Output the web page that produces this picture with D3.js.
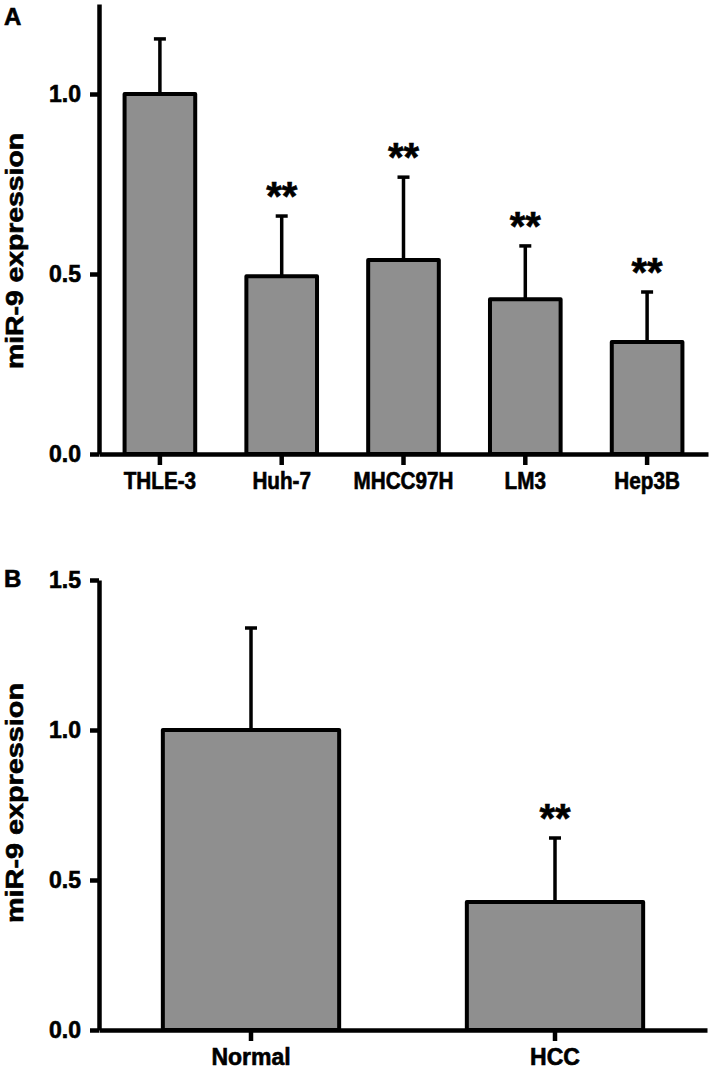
<!DOCTYPE html>
<html>
<head>
<meta charset="utf-8">
<script src="https://cdn.jsdelivr.net/npm/d3@7"></script>
<style>
  html, body { margin: 0; padding: 0; background: #fff; }
  svg { display: block; }
  text { font-family: "Liberation Sans", Arial, Helvetica, sans-serif; font-weight: bold; fill: #000; stroke: #000; stroke-width: 0.6px; }
</style>
</head>
<body>
<div id="chart"></div>
<script>
// Panel A data
const catsA = ["THLE-3", "Huh-7", "MHCC97H", "LM3", "Hep3B"];
const meanA = [1.0, 0.494, 0.539, 0.43, 0.311];
const semA  = [0.153, 0.167, 0.23, 0.148, 0.139];
const sigA  = ["", "**", "**", "**", "**"];
const ticksA = [0, 0.5, 1.0];

// Panel B data
const catsB = ["Normal", "HCC"];
const meanB = [1.0, 0.427];
const semB  = [0.34, 0.213];
const sigB  = ["", "**"];
const ticksB = [0, 0.5, 1.0, 1.5];

const yTitle = "miR-9 expression";

const W = 709, H = 1070;
const svg = d3.select("#chart").append("svg").attr("width", W).attr("height", H);

function panel(cfg) {
  const x = d3.scaleBand().domain(cfg.cats).range(cfg.xr).paddingInner(0.42).paddingOuter(0.21);
  const y = d3.scaleLinear().domain(cfg.yd).range(cfg.yr);
  const g = svg.append("g");
  const data = cfg.cats.map((c, i) => ({c, m: cfg.mean[i], s: cfg.sem[i], sig: cfg.sig[i]}));

  // bars
  g.selectAll("rect.bar").data(data).join("rect")
    .attr("class", "bar")
    .attr("x", d => x(d.c))
    .attr("width", x.bandwidth())
    .attr("y", d => y(d.m))
    .attr("height", d => y(0) - y(d.m))
    .attr("fill", "#8f8f8f")
    .attr("stroke", "#000")
    .attr("stroke-width", 4)
    .attr("stroke-linejoin", "round");

  // error bars
  const cx = d => x(d.c) + x.bandwidth() / 2;
  g.selectAll("line.err").data(data).join("line")
    .attr("x1", cx).attr("x2", cx)
    .attr("y1", d => y(d.m)).attr("y2", d => y(d.m + d.s))
    .attr("stroke", "#000").attr("stroke-width", 3.5);
  g.selectAll("line.cap").data(data).join("line")
    .attr("x1", d => cx(d) - 6).attr("x2", d => cx(d) + 6)
    .attr("y1", d => y(d.m + d.s)).attr("y2", d => y(d.m + d.s))
    .attr("stroke", "#000").attr("stroke-width", 3.5);

  // significance stars
  g.selectAll("text.sig").data(data.filter(d => d.sig)).join("text")
    .attr("class", "sig")
    .attr("x", cx)
    .attr("y", d => y(d.m + d.s) - 6)
    .attr("text-anchor", "middle")
    .attr("font-size", 40)
    .text(d => d.sig);

  // y axis
  const ya = g.append("g").attr("transform", `translate(${cfg.xr[0]},0)`)
    .call(d3.axisLeft(y).tickValues(cfg.ticks).tickFormat(d3.format(".1f")).tickSize(9).tickPadding(9).tickSizeOuter(0));
  ya.select(".domain").attr("stroke-width", 4.5);
  ya.selectAll(".tick line").attr("stroke-width", 4.5);
  ya.selectAll(".tick text").attr("font-size", 23).attr("font-family", null).attr("fill", "#000");

  // x axis
  const xa = g.append("g").attr("transform", `translate(0,${y(0)})`)
    .call(d3.axisBottom(x).tickSize(11).tickPadding(cfg.tickPad).tickSizeOuter(0));
  xa.select(".domain").attr("stroke-width", 4.5);
  xa.selectAll(".tick line").attr("stroke-width", 4.5);
  xa.selectAll(".tick text").attr("font-size", cfg.xfs).attr("font-family", null).attr("fill", "#000")
    .attr("transform", `scale(${cfg.xsx},1)`);

  // y title
  g.append("text")
    .attr("transform", `translate(23,${(cfg.yr[0] + cfg.yr[1]) / 2 + cfg.titleShift}) rotate(-90)`)
    .attr("text-anchor", "middle")
    .attr("font-size", 23)
    .attr("textLength", cfg.titleLen)
    .attr("lengthAdjust", "spacingAndGlyphs")
    .text(yTitle);

  // panel letter
  g.append("text").attr("x", 4).attr("y", cfg.letterY).attr("font-size", 24).text(cfg.letter);
}

panel({cats: catsA, mean: meanA, sem: semA, sig: sigA, ticks: ticksA,
       xr: [99, 708], yd: [0, 1.25], yr: [454, 4], letter: "A", letterY: 25,
       xfs: 23, xsx: 0.9, tickPad: 8, titleLen: 236, titleShift: 22});
panel({cats: catsB, mean: meanB, sem: semB, sig: sigB, ticks: ticksB,
       xr: [99, 707], yd: [0, 1.5], yr: [1030, 580], letter: "B", letterY: 587,
       xfs: 23, xsx: 1, tickPad: 8, titleLen: 240, titleShift: -2});
</script>
</body>
</html>
